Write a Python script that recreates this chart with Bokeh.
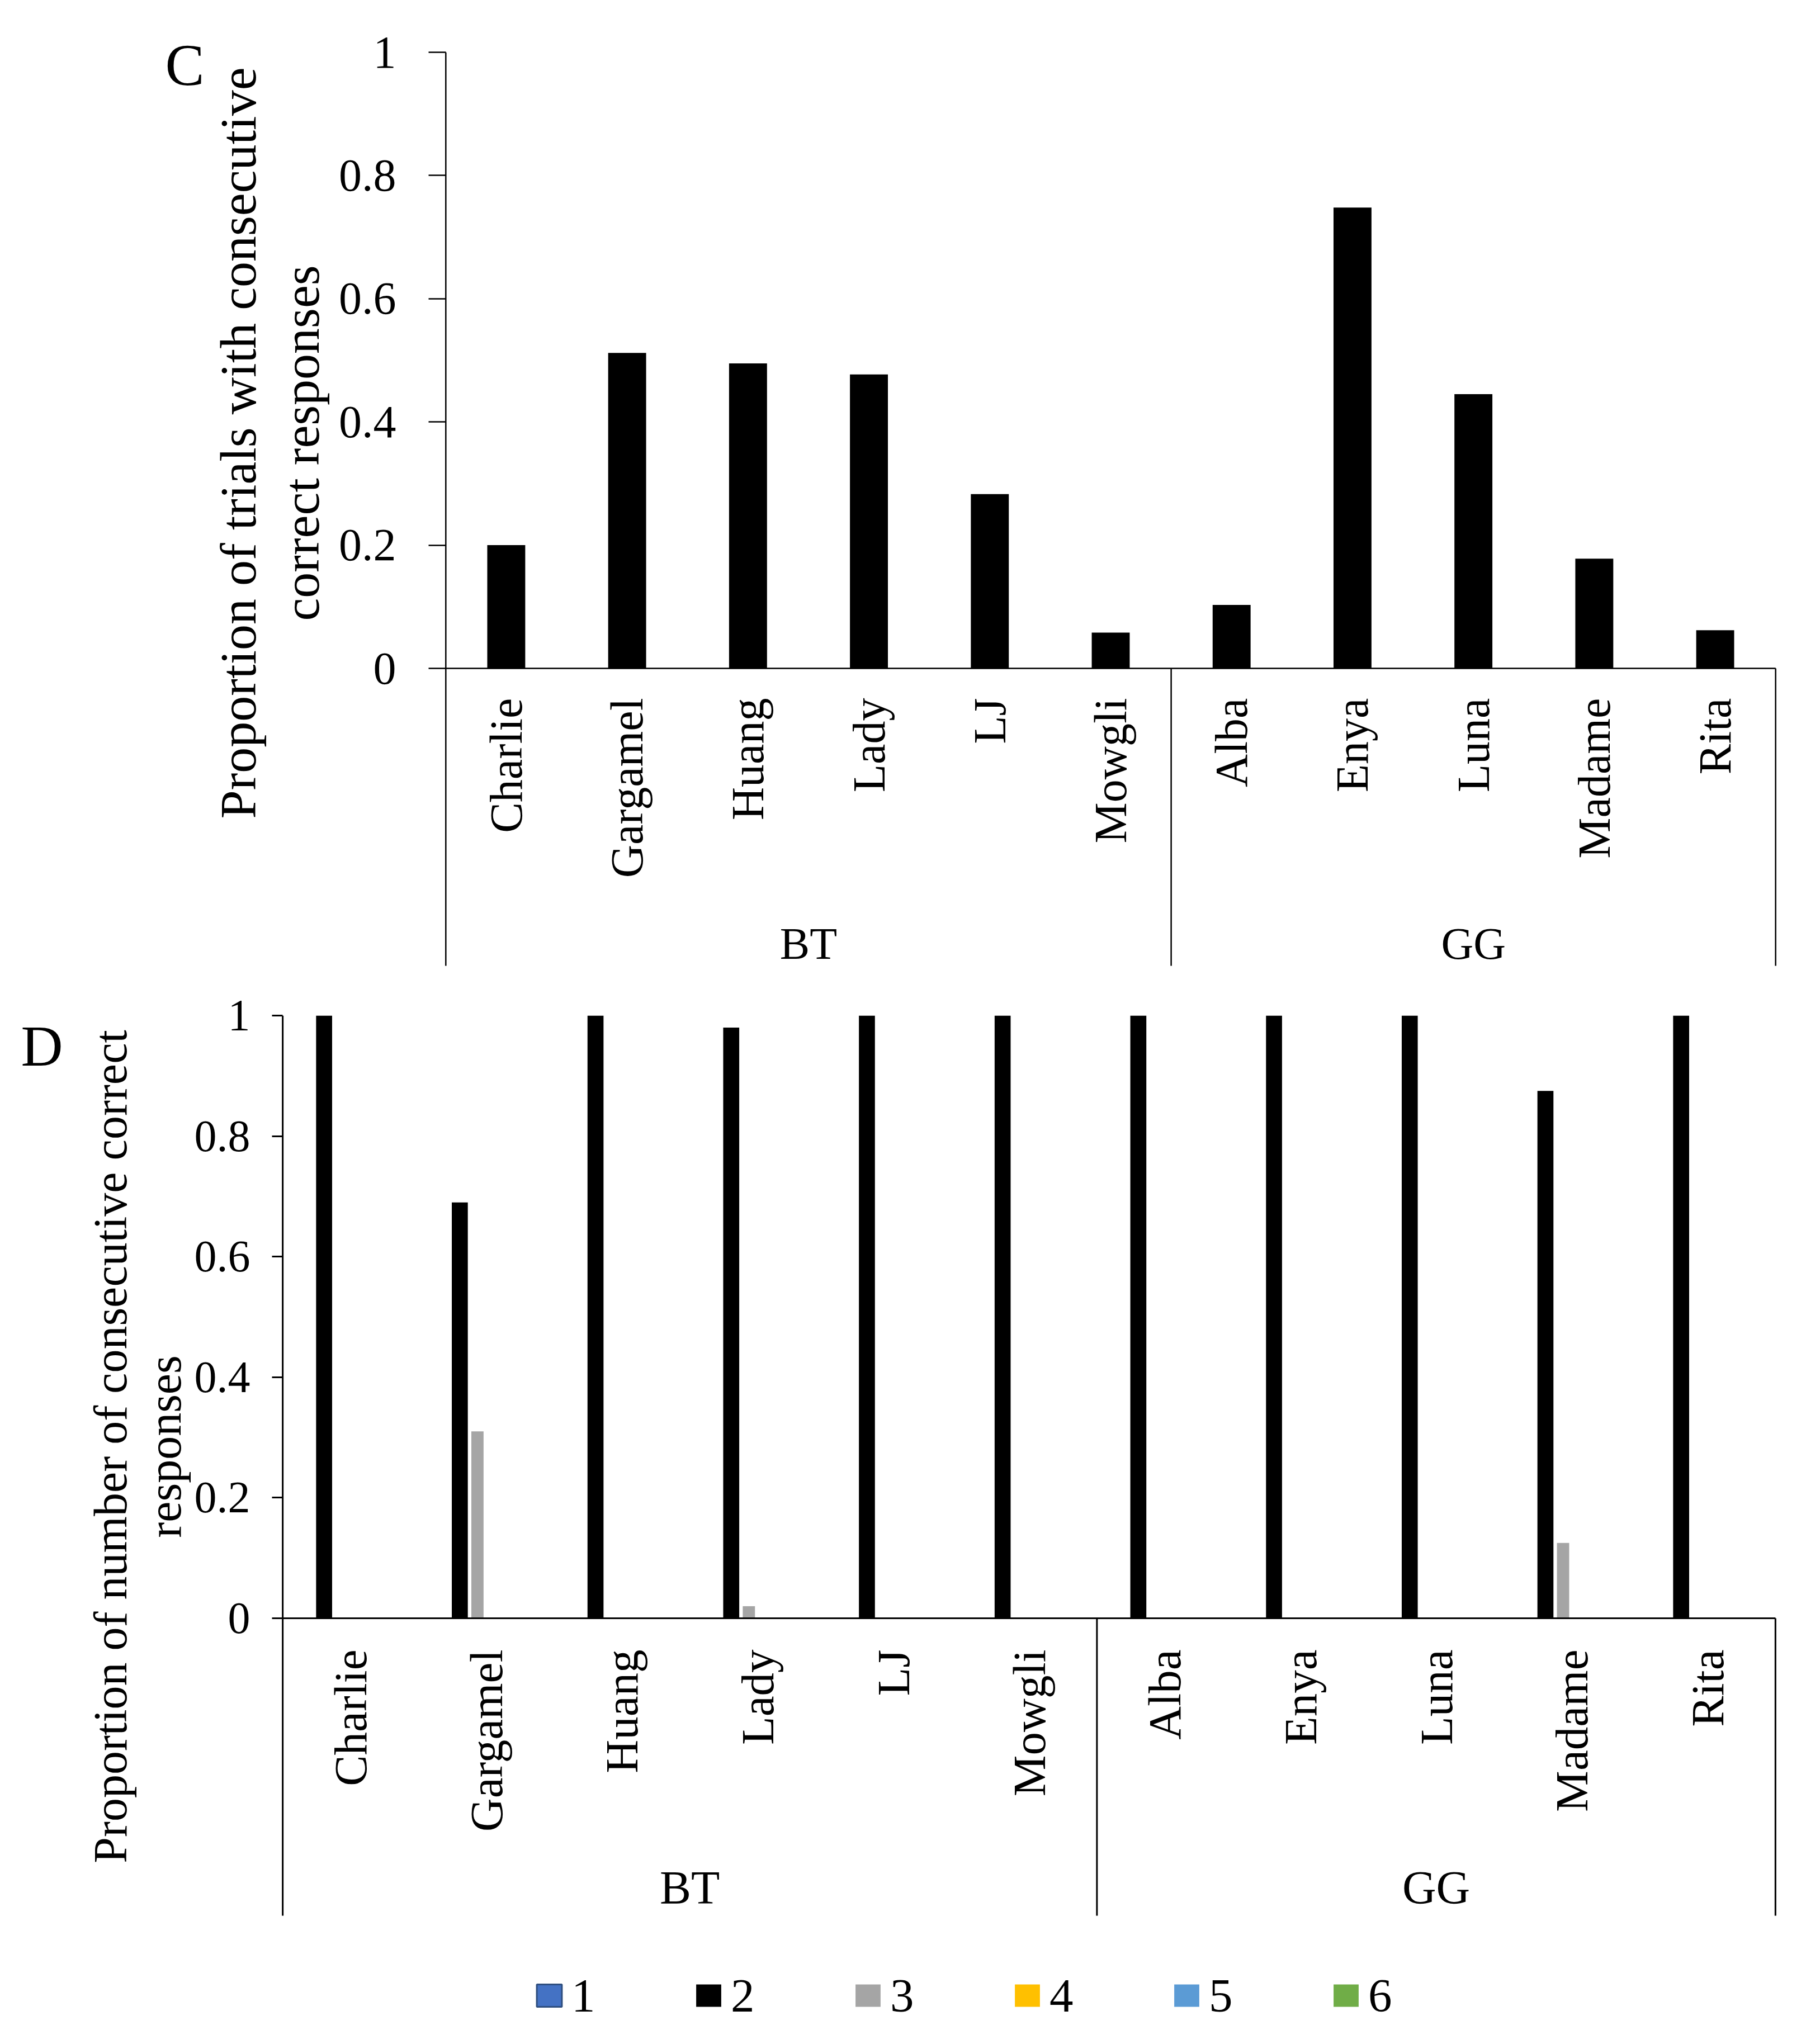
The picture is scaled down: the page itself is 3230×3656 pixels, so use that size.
import numpy as np
from bokeh.plotting import figure
from bokeh.models import (Range1d, FixedTicker, CustomJSTickFormatter,
                          Legend, LegendItem)
from bokeh.layouts import column, row
from bokeh.embed import file_html
from bokeh.resources import INLINE
from bokeh.core.properties import value

# ---------------- data ----------------
names = ["Charlie", "Gargamel", "Huang", "Lady", "LJ", "Mowgli",
         "Alba", "Enya", "Luna", "Madame", "Rita"]
groups = ["BT", "GG"]
group_sizes = [6, 5]

# Panel C: proportion of trials with consecutive correct responses
prop_trials = [0.200, 0.512, 0.495, 0.477, 0.283, 0.058,
               0.103, 0.748, 0.445, 0.178, 0.062]

# Panel D: proportion of number of consecutive correct responses
series_labels = ["1", "2", "3", "4", "5", "6"]
run_1 = [0, 0, 0, 0, 0, 0, 0, 0, 0, 0, 0]
run_2 = [1, 0.69, 1, 0.98, 1, 1, 1, 1, 1, 0.875, 1]
run_3 = [0, 0.31, 0, 0.02, 0, 0, 0, 0, 0, 0.125, 0]
run_4 = [0, 0, 0, 0, 0, 0, 0, 0, 0, 0, 0]
run_5 = [0, 0, 0, 0, 0, 0, 0, 0, 0, 0, 0]
run_6 = [0, 0, 0, 0, 0, 0, 0, 0, 0, 0, 0]
series_values = [run_1, run_2, run_3, run_4, run_5, run_6]

y_ticks = [0, 0.2, 0.4, 0.6, 0.8, 1]
y_tick_labels = ["0", "0.2", "0.4", "0.6", "0.8", "1"]

title_c = ["Proportion of trials with consecutive", "correct responses"]
title_d = ["Proportion of number of consecutive correct", "responses"]

# ---------------- styles ----------------
FONT = "Liberation Serif"
W = 3214
PAD = 0.05
N = len(names)
series_colors = ["#4472C4", "#000000", "#A5A5A5", "#FFC000", "#5B9BD5", "#70AD47"]
series_lines = ["#2F4F80", None, None, None, None, None]
series_widths = [0.118, 0.118, 0.09, 0.118, 0.118, 0.118]
SLOT = 0.13
ROT_SHIFT = 20  # correction for rotated-text baseline placement

xc = np.arange(N) + 0.5
bounds = np.cumsum([0] + group_sizes)
group_centers = [float(bounds[i] + bounds[i + 1]) / 2 for i in range(len(groups))]

fmt = CustomJSTickFormatter(args=dict(tvals=y_ticks, tlabs=y_tick_labels), code="""
const i = tvals.findIndex(t => Math.abs(t - tick) < 1e-9);
return i >= 0 ? tlabs[i] : '';
""")


def no_align(p):
    try:
        p.frame_align = False
    except Exception:
        pass


def make_fig(width, height, frame_left, frame_top, frame_w, frame_h, y_bottom):
    p = figure(width=width, height=height, output_backend="svg", toolbar_location=None,
               x_range=Range1d(-PAD, N + PAD), y_range=Range1d(y_bottom, 1),
               x_axis_location=None,
               min_border_left=frame_left, min_border_top=frame_top,
               min_border_right=width - frame_left - frame_w,
               min_border_bottom=height - frame_top - frame_h)
    no_align(p)
    p.outline_line_color = None
    p.grid.visible = False
    p.background_fill_color = "white"
    p.border_fill_color = "white"
    ax = p.yaxis[0]
    ax.ticker = FixedTicker(ticks=y_ticks)
    ax.formatter = fmt
    ax.axis_line_color = None
    ax.minor_tick_line_color = None
    ax.major_tick_line_color = "black"
    ax.major_label_text_font = FONT
    ax.major_label_text_color = "black"
    return p


def make_side(width, height):
    s = figure(width=width, height=height, output_backend="svg", toolbar_location=None,
               x_range=Range1d(0, width), y_range=Range1d(0, height),
               x_axis_location=None, y_axis_location=None, min_border=0)
    no_align(s)
    s.outline_line_color = None
    s.grid.visible = False
    s.background_fill_color = "white"
    s.border_fill_color = "white"
    return s


def draw_frame_lines(p, line_bottom, lw):
    x0 = [0, 0] + [float(b) for b in bounds[1:]]
    y0 = [1, 0] + [0] * (len(bounds) - 1)
    x1 = [0, N] + [float(b) for b in bounds[1:]]
    y1 = [line_bottom, 0] + [line_bottom] * (len(bounds) - 1)
    p.segment(x0=x0, y0=y0, x1=x1, y1=y1, line_color="black", line_width=lw)


# ================= Panel C =================
H1 = 1742
SIDE1 = 600
ppu_x1 = (3183 - 805) / 11
ppu_y1 = 1203 - 101
fl1 = round(805 - PAD * ppu_x1 - 8) - SIDE1
fw1 = round((N + 2 * PAD) * ppu_x1)
ft1 = 101 - 8
fh1 = 1740 - 101
p1 = make_fig(W - SIDE1, H1, fl1, ft1, fw1, fh1, 1 - fh1 / ppu_y1)
ax1 = p1.yaxis[0]
ax1.major_tick_out = 20
ax1.major_tick_in = 11
ax1.major_tick_line_width = 2.5
ax1.major_label_standoff = 58
ax1.major_label_text_font_size = "82px"

p1.vbar(x=xc, top=prop_trials, width=0.314, fill_color="black", line_color=None)
draw_frame_lines(p1, 1 - (1735 - 101) / ppu_y1, 2.5)

p1.text(x=xc, y=[0] * N, text=names, angle=np.pi / 2, text_align="right",
        text_baseline="middle", y_offset=53, text_font=value(FONT),
        text_font_size="82px", text_color="black")
p1.text(x=group_centers, y=[0] * len(groups), text=groups, text_align="center",
        text_baseline="middle", y_offset=492, text_font=value(FONT),
        text_font_size="80px", text_color="black")

s1 = make_side(SIDE1, H1)
s1.text(x=[303 - 8], y=[H1 - (124 - 8)], text=["C"], text_align="left",
        text_baseline="alphabetic", text_font=value(FONT), text_font_size="105px",
        text_color="black")
s1.text(x=[453 - 8 - ROT_SHIFT, 566 - 8 - ROT_SHIFT], y=[H1 - (800 - 8)] * 2,
        text=title_c, angle=np.pi / 2, text_align="center",
        text_baseline="alphabetic", text_font=value(FONT), text_font_size="92px",
        text_color="black")

# ================= Panel D =================
top2 = 8 + H1
SIDE2 = 344
ppu_x2 = (3183 - 512) / 11
ppu_y2 = 2902 - 1824
fl2 = round(512 - PAD * ppu_x2 - 8) - SIDE2
fw2 = round((N + 2 * PAD) * ppu_x2)
ft2 = 1824 - top2
fh2 = 3630 - 1824
H2 = ft2 + fh2 + 10
p2 = make_fig(W - SIDE2, H2, fl2, ft2, fw2, fh2, 1 - fh2 / ppu_y2)
ax2 = p2.yaxis[0]
ax2.major_tick_out = 7
ax2.major_tick_in = 12
ax2.major_tick_line_width = 3
ax2.major_label_standoff = 39
ax2.major_label_text_font_size = "80px"

items = []
for i, (lab, vals) in enumerate(zip(series_labels, series_values)):
    r = p2.vbar(x=xc + (i - 2.5) * SLOT, top=vals, width=series_widths[i],
                fill_color=series_colors[i], line_color=series_lines[i],
                line_width=3)
    items.append(LegendItem(label=lab, renderers=[r]))

draw_frame_lines(p2, 1 - (3434 - 1824) / ppu_y2, 3)

p2.text(x=xc, y=[0] * N, text=names, angle=np.pi / 2, text_align="right",
        text_baseline="middle", y_offset=56, text_font=value(FONT),
        text_font_size="83px", text_color="black")
p2.text(x=group_centers, y=[0] * len(groups), text=groups, text_align="center",
        text_baseline="middle", y_offset=482, text_font=value(FONT),
        text_font_size="84px", text_color="black")

legend = Legend(items=items, orientation="horizontal", location=(461, 4),
                glyph_width=56, glyph_height=50, label_standoff=12, spacing=174,
                label_width=43, label_height=50, padding=0, margin=0,
                border_line_color=None, background_fill_alpha=0,
                label_text_font=FONT, label_text_font_size="85px",
                label_text_color="black")
p2.add_layout(legend)

s2 = make_side(SIDE2, H2)
s2.text(x=[45 - 8], y=[H2 - (1878 - top2)], text=["D"], text_align="left",
        text_baseline="alphabetic", text_font=value(FONT), text_font_size="104px",
        text_color="black")
s2.text(x=[225 - 8 - ROT_SHIFT, 322 - 8 - ROT_SHIFT], y=[H2 - (2595 - top2)] * 2,
        text=title_d, angle=np.pi / 2, text_align="center",
        text_baseline="alphabetic", text_font=value(FONT), text_font_size="84px",
        text_color="black")

layout = column(row(s1, p1, spacing=0), row(s2, p2, spacing=0), spacing=0)
open("out.html", "w").write(file_html(layout, INLINE))
